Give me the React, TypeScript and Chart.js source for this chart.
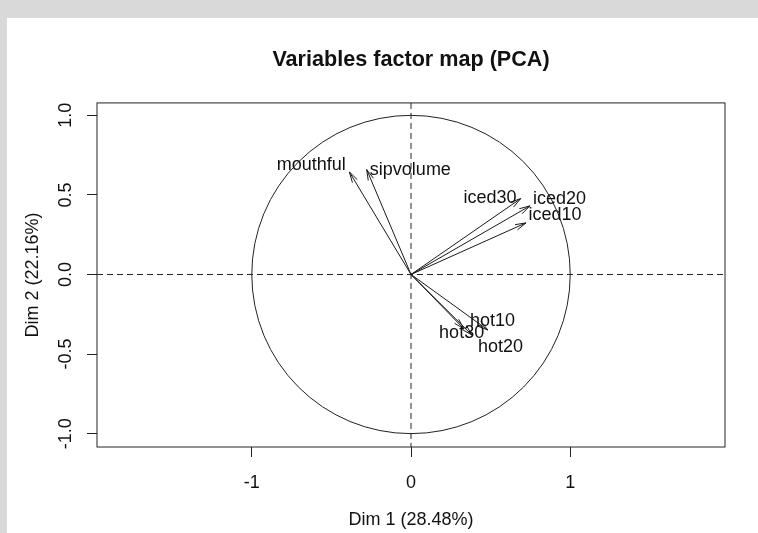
import React, { useEffect, useRef } from 'react';
import { Chart, registerables } from 'chart.js';

Chart.register(...registerables);

// ---- data ----
const variables = ['mouthful', 'sipvolume', 'iced30', 'iced20', 'iced10', 'hot10', 'hot30', 'hot20'];
const dim1 = [-0.387, -0.278, 0.689, 0.747, 0.722, 0.483, 0.333, 0.383];
const dim2 = [0.644, 0.659, 0.477, 0.431, 0.324, -0.349, -0.342, -0.381];
// label anchor positions (data units)
const labelDim1 = [-0.626, -0.004, 0.496, 0.932, 0.904, 0.512, 0.318, 0.562];
const labelDim2 = [0.686, 0.659, 0.479, 0.473, 0.372, -0.291, -0.367, -0.454];

const xTicks = [-1, 0, 1];
const yTicks = [-1, -0.5, 0, 0.5, 1];
const xRange = [-1.972, 1.972];
const yRange = [-1.084, 1.078];

const chartTitle = 'Variables factor map (PCA)';
const xTitle = 'Dim 1 (28.48%)';
const yTitle = 'Dim 2 (22.16%)';

const FONT = '"Liberation Sans", Arial, Helvetica, sans-serif';
const INK = '#111111';

const decor = {
  id: 'pcaDecor',
  beforeDraw(chart: any) {
    const ctx = chart.ctx;
    ctx.save();
    ctx.fillStyle = '#ffffff';
    ctx.fillRect(0, 0, chart.width, chart.height);
    ctx.fillStyle = '#d9d9d9';
    ctx.fillRect(0, 0, chart.width, 18);
    ctx.fillRect(0, 0, 7, chart.height);
    ctx.restore();
  },
  beforeDatasetsDraw(chart: any) {
    const { ctx, chartArea: a, scales } = chart;
    const x = scales.x, y = scales.y;
    const x0 = x.getPixelForValue(0);
    const y0 = y.getPixelForValue(0);
    ctx.save();
    ctx.strokeStyle = '#222';
    ctx.lineWidth = 1;
    ctx.setLineDash([6, 4]);
    ctx.beginPath();
    ctx.moveTo(a.left, y0);
    ctx.lineTo(a.right, y0);
    ctx.moveTo(x0, a.top);
    ctx.lineTo(x0, a.bottom);
    ctx.stroke();
    ctx.setLineDash([]);
    const rx = x.getPixelForValue(1) - x0;
    const ry = y0 - y.getPixelForValue(1);
    ctx.beginPath();
    ctx.ellipse(x0, y0, rx, ry, 0, 0, Math.PI * 2);
    ctx.stroke();
    ctx.restore();
  },
  afterDatasetsDraw(chart: any) {
    const { ctx, chartArea: a, scales } = chart;
    const x = scales.x, y = scales.y;
    ctx.save();
    // arrowheads
    ctx.strokeStyle = '#1a1a1a';
    ctx.lineWidth = 1;
    const len = 11;
    const ang = (15 * Math.PI) / 180;
    chart.data.datasets.forEach((_: any, i: number) => {
      const meta = chart.getDatasetMeta(i);
      const p0 = meta.data[0];
      const p1 = meta.data[1];
      if (!p0 || !p1) return;
      const th = Math.atan2(p1.y - p0.y, p1.x - p0.x);
      ctx.beginPath();
      ctx.moveTo(p1.x - len * Math.cos(th - ang), p1.y - len * Math.sin(th - ang));
      ctx.lineTo(p1.x, p1.y);
      ctx.lineTo(p1.x - len * Math.cos(th + ang), p1.y - len * Math.sin(th + ang));
      ctx.stroke();
    });
    // labels
    ctx.fillStyle = INK;
    ctx.font = `18px ${FONT}`;
    ctx.textAlign = 'center';
    ctx.textBaseline = 'middle';
    variables.forEach((name, i) => {
      ctx.fillText(name, x.getPixelForValue(labelDim1[i]), y.getPixelForValue(labelDim2[i]));
    });
    // box
    ctx.strokeStyle = '#222';
    ctx.lineWidth = 1;
    ctx.strokeRect(a.left, a.top, a.right - a.left, a.bottom - a.top);
    ctx.restore();
  },
};

export default function App() {
  const ref = useRef<HTMLCanvasElement | null>(null);

  useEffect(() => {
    if (!ref.current) return;
    Chart.defaults.font.family = FONT;
    const datasets = variables.map((name, i) => ({
      label: name,
      data: [
        { x: 0, y: 0 },
        { x: dim1[i], y: dim2[i] },
      ],
      showLine: true,
      borderColor: '#1a1a1a',
      borderWidth: 1,
      pointRadius: 0,
      pointHoverRadius: 0,
      fill: false,
    }));

    const chart = new Chart(ref.current, {
      type: 'scatter',
      data: { datasets },
      plugins: [decor],
      options: {
        responsive: false,
        animation: false,
        layout: { padding: { left: 0, right: 33, top: 0, bottom: 0 } },
        plugins: {
          legend: { display: false },
          tooltip: { enabled: false },
          title: {
            display: true,
            text: chartTitle,
            fullSize: false,
            color: INK,
            font: { size: 21.6, weight: 'bold', family: FONT, lineHeight: 1.2 },
            padding: { top: 47, bottom: 30 },
          },
        },
        scales: {
          x: {
            type: 'linear',
            min: xRange[0],
            max: xRange[1],
            afterBuildTicks: (s: any) => {
              s.ticks = xTicks.map((v) => ({ value: v }));
            },
            afterFit: (s: any) => {
              s.height = 86;
            },
            ticks: {
              autoSkip: false,
              maxRotation: 0,
              padding: 15,
              color: INK,
              font: { size: 18, family: FONT },
              callback: (v: any) => String(v),
            },
            grid: {
              display: true,
              drawOnChartArea: false,
              drawTicks: true,
              tickLength: 10,
              color: '#222',
              lineWidth: 1,
            },
            border: { display: false },
            title: {
              display: true,
              text: xTitle,
              color: INK,
              font: { size: 18, family: FONT, lineHeight: 1.2 },
              padding: { top: 0, bottom: 2 },
            },
          },
          y: {
            type: 'linear',
            min: yRange[0],
            max: yRange[1],
            afterBuildTicks: (s: any) => {
              s.ticks = yTicks.map((v) => ({ value: v }));
            },
            afterFit: (s: any) => {
              s.width = 97;
            },
            ticks: {
              autoSkip: false,
              minRotation: 90,
              maxRotation: 90,
              crossAlign: 'center',
              padding: 5.5,
              color: INK,
              font: { size: 18, family: FONT },
              callback: (v: any) => Number(v).toFixed(1),
            },
            grid: {
              display: true,
              drawOnChartArea: false,
              drawTicks: true,
              tickLength: 10,
              color: '#222',
              lineWidth: 1,
            },
            border: { display: false },
            title: {
              display: true,
              text: yTitle,
              color: INK,
              font: { size: 18, family: FONT, lineHeight: 1.2 },
              padding: { top: 22, bottom: 0 },
            },
          },
        },
      },
    } as any);
    return () => chart.destroy();
  }, []);

  return (
    <div style={{ position: 'absolute', left: 0, top: 0, width: 758, height: 533 }}>
      <canvas ref={ref} width={758} height={533} style={{ display: 'block' }} />
    </div>
  );
}
